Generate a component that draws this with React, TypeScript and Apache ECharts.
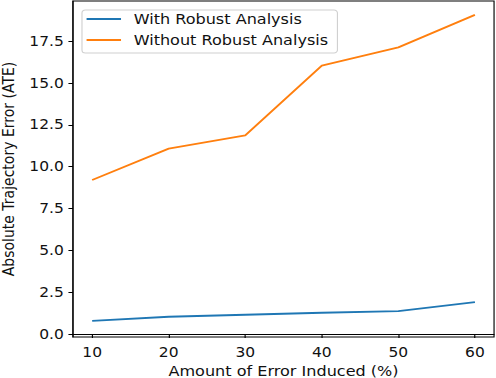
import React, { useEffect, useRef } from "react";
import * as echarts from "echarts";

const errorLevels = [10, 20, 30, 40, 50, 60];
const withRobust = [0.78, 1.03, 1.15, 1.27, 1.37, 1.91];
const withoutRobust = [9.2, 11.08, 11.87, 16.04, 17.13, 19.07];
const xTicks = [10, 20, 30, 40, 50, 60];
const yTicks = [0, 2.5, 5, 7.5, 10, 12.5, 15, 17.5];

const CHART_W = 432;
const CHART_H = 378;
const SX = 496 / CHART_W;
const FONT = "DejaVu Sans";

export default function App() {
  const ref = useRef<HTMLDivElement>(null);
  useEffect(() => {
    if (!ref.current) return;
    const chart = echarts.init(ref.current, undefined, { renderer: "svg" });
    chart.setOption({
      animation: false,
      backgroundColor: "#fff",
      textStyle: { fontFamily: FONT },
      grid: {
        left: 63.6,
        right: 1.7,
        top: 1,
        bottom: 41,
        show: true,
        borderColor: "#000",
        borderWidth: 1,
        containLabel: false,
        outerBoundsMode: "none",
      },
      legend: {
        orient: "vertical",
        left: 71.4,
        top: 10,
        icon: "rect",
        itemWidth: 30,
        itemHeight: 1.8,
        itemGap: 5,
        padding: [1, 8, 5, 4],
        borderColor: "#d0d0d0",
        borderWidth: 1,
        borderRadius: 3,
        backgroundColor: "rgba(255,255,255,0.8)",
        textStyle: { fontFamily: FONT, fontSize: 14, color: "#111", lineHeight: 16, padding: [0, 0, 0, 6] },
        data: ["With Robust Analysis", "Without Robust Analysis"],
      },
      xAxis: {
        type: "value",
        min: 7.5,
        max: 62.5,
        name: "Amount of Error Induced (%)",
        nameLocation: "middle",
        nameGap: 27,
        nameTextStyle: { fontFamily: FONT, fontSize: 14, color: "#111" },
        axisLine: { show: true, lineStyle: { color: "#000", width: 1 } },
        axisTick: { show: true, length: 4, lineStyle: { color: "#000" }, customValues: xTicks },
        axisLabel: {
          fontFamily: FONT,
          fontSize: 13.5,
          color: "#111",
          margin: 8,
          customValues: xTicks,
          formatter: (v: number) => String(v),
        },
        splitLine: { show: false },
      },
      yAxis: {
        type: "value",
        min: -0.18,
        max: 19.9,
        name: "Absolute Trajectory Error (ATE)",
        nameLocation: "middle",
        nameGap: 47,
        nameTextStyle: { fontFamily: FONT, fontSize: 14, color: "#111" },
        axisLine: { show: true, lineStyle: { color: "#000", width: 1 } },
        axisTick: { show: true, length: 4, lineStyle: { color: "#000" }, customValues: yTicks },
        axisLabel: {
          fontFamily: FONT,
          fontSize: 13.5,
          color: "#111",
          margin: 8,
          customValues: yTicks,
          formatter: (v: number) => v.toFixed(1),
        },
        splitLine: { show: false },
      },
      series: [
        {
          name: "With Robust Analysis",
          type: "line",
          data: errorLevels.map((x, i) => [x, withRobust[i]]),
          symbol: "none",
          lineStyle: { color: "#1f77b4", width: 1.8 },
          itemStyle: { color: "#1f77b4" },
        },
        {
          name: "Without Robust Analysis",
          type: "line",
          data: errorLevels.map((x, i) => [x, withoutRobust[i]]),
          symbol: "none",
          lineStyle: { color: "#ff7f0e", width: 1.8 },
          itemStyle: { color: "#ff7f0e" },
        },
      ],
    });
    return () => chart.dispose();
  }, []);
  return (
    <div
      ref={ref}
      style={{
        position: "absolute",
        left: 0,
        top: 0,
        width: CHART_W,
        height: CHART_H,
        transform: `scaleX(${SX})`,
        transformOrigin: "0 0",
      }}
    />
  );
}
